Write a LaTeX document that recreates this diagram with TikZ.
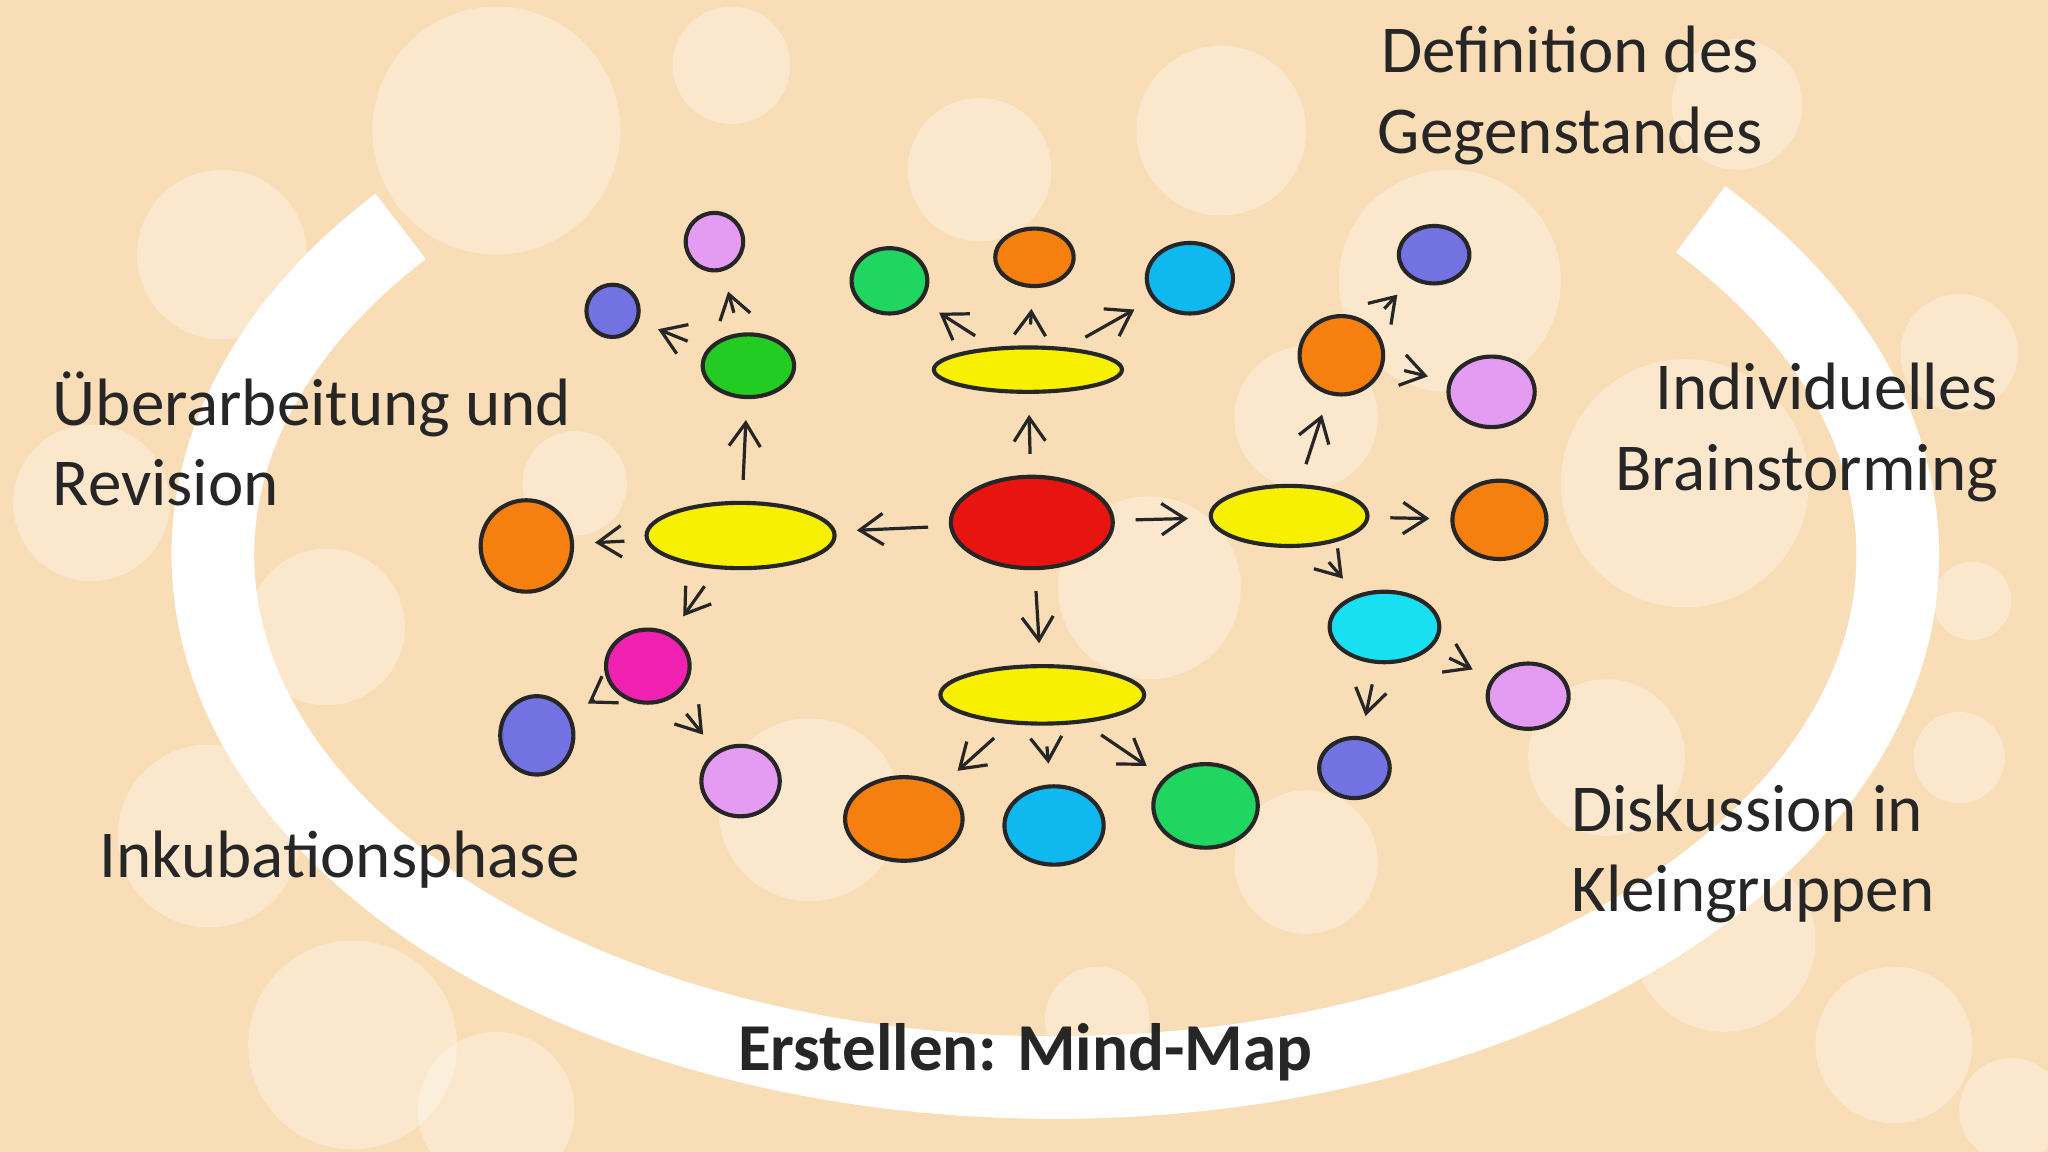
\documentclass[tikz,border=0pt]{standalone}
\usepackage{fontspec}
\setmainfont{Carlito}
\usetikzlibrary{shapes.geometric,arrows.meta}
\definecolor{bg}{HTML}{F8DDB6}
\definecolor{cyel}{HTML}{F7F000}
\definecolor{cred}{HTML}{E8140F}
\definecolor{corg}{HTML}{F5800F}
\definecolor{cgrn}{HTML}{1ED660}
\definecolor{cgrn2}{HTML}{22CC22}
\definecolor{cblu}{HTML}{7272E2}
\definecolor{cvio}{HTML}{E39CF2}
\definecolor{cmag}{HTML}{F020B0}
\definecolor{csky}{HTML}{10B8F0}
\definecolor{ccya}{HTML}{18E0F0}
\tikzset{
 blob/.style={ellipse,draw=black!85,line width=0.9pt,inner sep=0pt},
 arr/.style={-{Straight Barb[length=1.8mm,width=2.4mm]},line width=0.7pt,black!85,shorten <=1.6mm,shorten >=1.6mm},
 lab/.style={font=\fontsize{14.6}{17.5}\selectfont,text=black!85,align=center}
}
\newcommand{\bl}[6]{\node[blob,fill=#6,minimum width=#4*0.1mm,minimum height=#5*0.1mm] (#1) at (#2,#3) {};}
\begin{document}
\begin{tikzpicture}[x=0.1mm,y=-0.1mm]
\fill[bg] (0,0) rectangle (1568,882);
\useasboundingbox (0,0) rectangle (1568,882);
\foreach \x/\y/\r in {380/100/95,170/195/65,750/130/55,935/100/65,1110/215/85,1330/80/50,1290/370/95,1500/270/45,70/385/60,250/480/60,440/370/40,880/450/70,1000/320/55,620/620/70,1000/660/55,1230/580/60,1320/720/70,160/640/70,270/800/80,380/850/60,1500/580/35,1450/800/60,1540/850/40,840/780/40,560/50/45,1510/460/30}
  \fill[white,opacity=0.3] (\x,\y) circle[radius=\r*0.1mm];
\draw[white,line width=18pt] (808,425) ++(219:645 and 400) arc[start angle=219,end angle=-40,x radius=645,y radius=400];
% nodes
\bl{c}{790}{400}{124}{70}{cred}
\bl{yl}{567}{410}{144}{50}{cyel}
\bl{yt}{787}{283}{144}{34}{cyel}
\bl{yr}{987}{395}{120}{46}{cyel}
\bl{yb}{798}{532}{156}{44}{cyel}
\bl{l1}{403}{418}{70}{70}{corg}
\bl{l2}{573}{280}{70}{48}{cgrn2}
\bl{l3}{469}{238}{40}{40}{cblu}
\bl{l4}{547}{185}{44}{44}{cvio}
\bl{l5}{496}{510}{64}{56}{cmag}
\bl{l6}{411}{563}{56}{60}{cblu}
\bl{l7}{567}{598}{60}{54}{cvio}
\bl{t1}{681}{215}{58}{50}{cgrn}
\bl{t2}{792}{197}{60}{44}{corg}
\bl{t3}{911}{213}{66}{54}{csky}
\bl{r1}{1027}{272}{64}{60}{corg}
\bl{r2}{1098}{195}{54}{44}{cblu}
\bl{r3}{1142}{300}{66}{54}{cvio}
\bl{r4}{1148}{398}{72}{60}{corg}
\bl{r5}{1060}{480}{84}{54}{ccya}
\bl{r6}{1170}{533}{62}{50}{cvio}
\bl{r7}{1037}{588}{54}{46}{cblu}
\bl{b1}{692}{627}{90}{64}{corg}
\bl{b2}{807}{632}{76}{60}{csky}
\bl{b3}{923}{617}{80}{64}{cgrn}
% arrows
\draw[arr] (c) -- (yl); \draw[arr] (c) -- (yt); \draw[arr] (c) -- (yr); \draw[arr] (c) -- (yb);
\draw[arr] (yl) -- (l1); \draw[arr] (yl) -- (l2); \draw[arr] (l2) -- (l3); \draw[arr] (l2) -- (l4);
\draw[arr] (yl) -- (l5); \draw[arr] (l5) -- (l6); \draw[arr] (l5) -- (l7);
\draw[arr] (yt) -- (t1); \draw[arr] (yt) -- (t2); \draw[arr] (yt) -- (t3);
\draw[arr] (yr) -- (r1); \draw[arr] (r1) -- (r2); \draw[arr] (r1) -- (r3); \draw[arr] (yr) -- (r4);
\draw[arr] (yr) -- (r5); \draw[arr] (r5) -- (r6); \draw[arr] (r5) -- (r7);
\draw[arr] (yb) -- (b1); \draw[arr] (yb) -- (b2); \draw[arr] (yb) -- (b3);
% labels
\node[lab] (n1) at (1202,73) {Definition des\\Gegenstandes};
\node[lab,align=left,anchor=west] (n2) at (28,336) {Überarbeitung und\\Revision};
\node[lab,align=right,anchor=east] (n3) at (1542,331) {Individuelles\\Brainstorming};
\node[lab] (n4) at (260,658) {Inkubationsphase};
\node[lab,align=left] (n5) at (1342,654) {Diskussion in\\Kleingruppen};
\node[lab,font=\fontsize{14.6}{17.5}\selectfont\bfseries] (n6) at (785,806) {Erstellen: Mind-Map};
\end{tikzpicture}
\end{document}
